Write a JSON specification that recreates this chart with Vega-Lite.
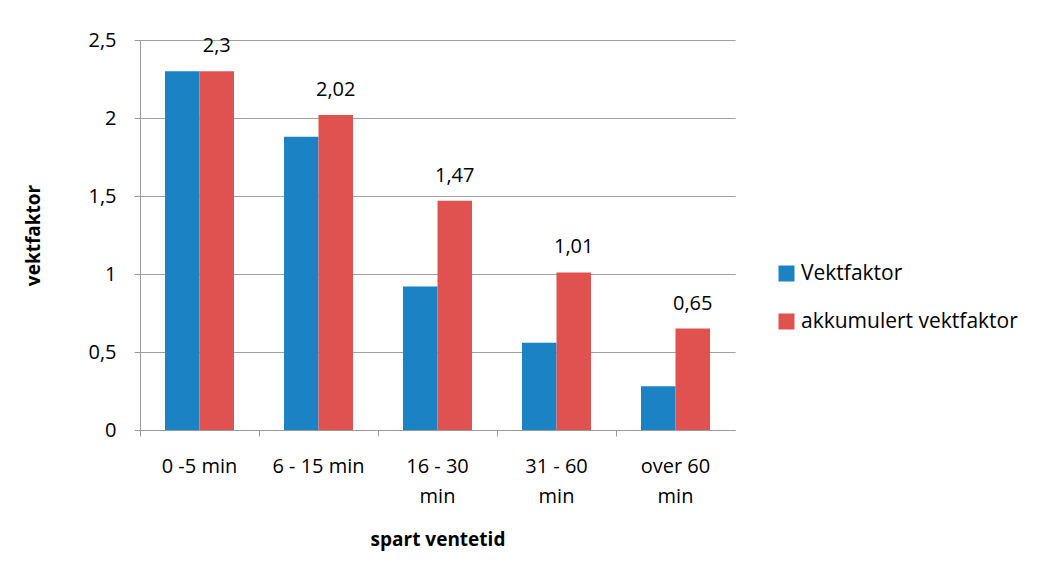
{
  "$schema": "https://vega.github.io/schema/vega-lite/v6.json",
  "autosize": "none",
  "width": 595,
  "height": 390,
  "padding": {"left": 140, "top": 40, "right": 323, "bottom": 151},
  "background": "white",
  "config": {
    "font": "Open Sans",
    "locale": {"number": {"decimal": ",", "thousands": " ", "grouping": [3], "currency": ["", " kr"]}},
    "view": {"stroke": null},
    "axis": {"labelFont": "Open Sans", "titleFont": "Open Sans", "labelColor": "#000000", "titleColor": "#000000"}
  },
  "data": {
    "values": [
      {"kategori": "0 -5 min", "serie": "Vektfaktor", "verdi": 2.3},
      {"kategori": "0 -5 min", "serie": "akkumulert vektfaktor", "verdi": 2.3},
      {"kategori": "6 - 15 min", "serie": "Vektfaktor", "verdi": 1.88},
      {"kategori": "6 - 15 min", "serie": "akkumulert vektfaktor", "verdi": 2.02},
      {"kategori": "16 - 30 min", "serie": "Vektfaktor", "verdi": 0.92},
      {"kategori": "16 - 30 min", "serie": "akkumulert vektfaktor", "verdi": 1.47},
      {"kategori": "31 - 60 min", "serie": "Vektfaktor", "verdi": 0.56},
      {"kategori": "31 - 60 min", "serie": "akkumulert vektfaktor", "verdi": 1.01},
      {"kategori": "over 60 min", "serie": "Vektfaktor", "verdi": 0.28},
      {"kategori": "over 60 min", "serie": "akkumulert vektfaktor", "verdi": 0.65}
    ]
  },
  "encoding": {
    "x": {
      "field": "kategori",
      "type": "nominal",
      "sort": null,
      "scale": {"paddingInner": 0, "paddingOuter": 0},
      "axis": {
        "title": "spart ventetid",
        "titleFontSize": 19,
        "titleFontWeight": "bold",
        "titlePadding": 24,
        "labelAngle": 0,
        "labelFontSize": 20,
        "labelPadding": 20,
        "labelLineHeight": 30,
        "bandPosition": 0,
        "tickSize": 6,
        "tickColor": "#9a9a9a",
        "domainColor": "#9a9a9a",
        "labelExpr": "length(datum.label) > 10 ? [substring(datum.label, 0, length(datum.label) - 4), 'min'] : datum.label"
      }
    },
    "xOffset": {
      "field": "serie",
      "type": "nominal",
      "sort": ["Vektfaktor", "akkumulert vektfaktor"],
      "scale": {"paddingInner": 0, "paddingOuter": 0.725}
    },
    "y": {
      "field": "verdi",
      "type": "quantitative",
      "scale": {"domain": [0, 2.5], "nice": false},
      "axis": {
        "title": "vektfaktor",
        "titleFontSize": 19,
        "titleFontWeight": "bold",
        "titlePadding": 44,
        "values": [0, 0.5, 1, 1.5, 2, 2.5],
        "format": ".1~f",
        "labelFontSize": 20,
        "labelPadding": 18,
        "tickSize": 6,
        "tickColor": "#9a9a9a",
        "domainColor": "#9a9a9a",
        "gridColor": "#a0a0a0",
        "grid": true
      }
    }
  },
  "layer": [
    {
      "mark": {"type": "bar"},
      "encoding": {
        "color": {
          "field": "serie",
          "type": "nominal",
          "sort": ["Vektfaktor", "akkumulert vektfaktor"],
          "scale": {"domain": ["Vektfaktor", "akkumulert vektfaktor"], "range": ["#1b82c3", "#e05250"]},
          "legend": {
            "title": null,
            "orient": "none",
            "legendX": 636,
            "legendY": 223,
            "symbolType": "square",
            "symbolSize": 256,
            "symbolStrokeWidth": 0,
            "labelFontSize": 21,
            "labelFont": "Open Sans",
            "labelColor": "#000000",
            "labelLimit": 400,
            "rowPadding": 26,
            "labelOffset": 4
          }
        }
      }
    },
    {
      "transform": [{"filter": "datum.serie == 'akkumulert vektfaktor'"}],
      "mark": {"type": "text", "baseline": "middle", "dy": -25, "fontSize": 20, "font": "Open Sans", "color": "#000000"},
      "encoding": {
        "text": {"field": "verdi", "type": "quantitative", "format": ".2~f"}
      }
    }
  ]
}
